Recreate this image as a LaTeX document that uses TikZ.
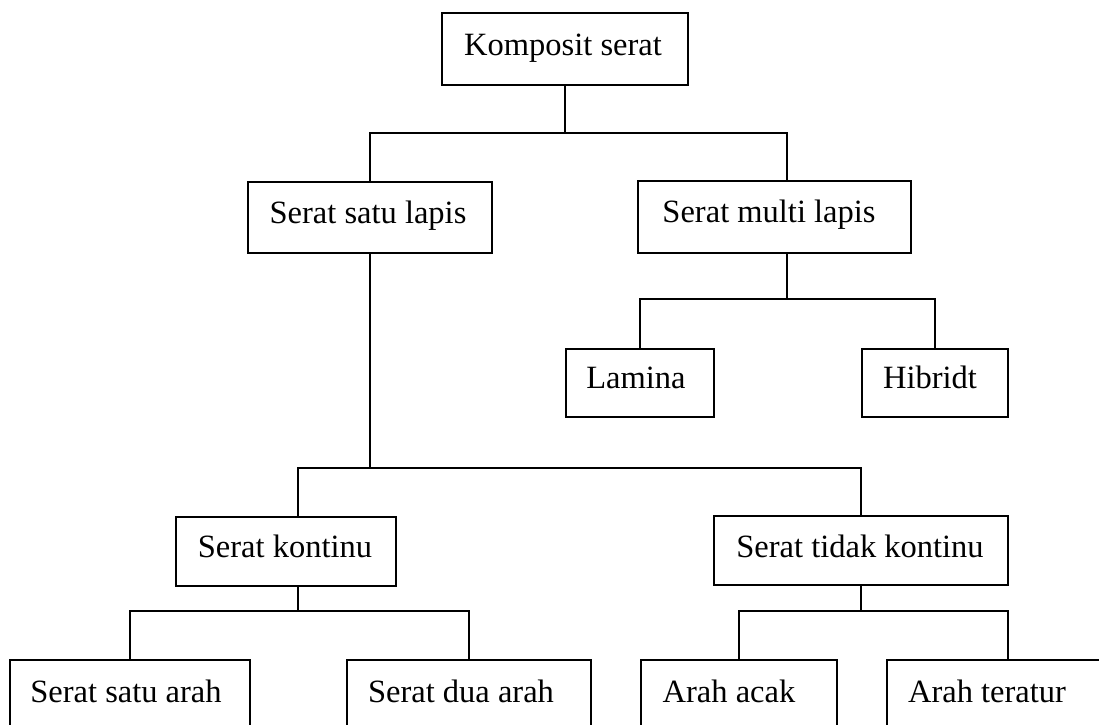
\documentclass[tikz,border=0pt]{standalone}
\usepackage{fontspec}
\setmainfont{Liberation Serif}
\begin{document}
\begin{tikzpicture}[x=1pt,y=-1pt,
  box/.style={draw=black, line width=2.1pt, rectangle, inner sep=0pt, fill=none},
  txt/.style={anchor=base, inner sep=0pt, font=\fontsize{32.5}{39}\selectfont},
  conn/.style={draw=black, line width=2.1pt}]
\useasboundingbox[fill=white] (0,0) rectangle (1099,724);
\clip (0,0) rectangle (1099,724);
% boxes
\node[box, minimum width=246pt, minimum height=72pt] (K)  at (565,49) {};
\node[box, minimum width=244pt, minimum height=71pt] (SL) at (370,217.5) {};
\node[box, minimum width=273pt, minimum height=72pt] (ML) at (774.5,217) {};
\node[box, minimum width=148pt, minimum height=68pt] (LA) at (640,383) {};
\node[box, minimum width=146pt, minimum height=68pt] (HI) at (935,383) {};
\node[box, minimum width=220pt, minimum height=69pt] (SK) at (286,551.5) {};
\node[box, minimum width=294pt, minimum height=69pt] (TK) at (861,550.5) {};
\node[box, minimum width=240pt, minimum height=100pt] (SA) at (130,710) {};
\node[box, minimum width=244pt, minimum height=100pt] (DA) at (469,710) {};
\node[box, minimum width=196pt, minimum height=100pt] (AA) at (739,710) {};
\node[box, minimum width=242pt, minimum height=100pt] (AT) at (1008,710) {};
% texts
\node[txt] (tK)  at (563,55)  {Komposit serat};
\node[txt] (tSL) at (368,223) {Serat satu lapis};
\node[txt] (tML) at (769,222) {Serat multi lapis};
\node[txt] (tLA) at (636,388) {Lamina};
\node[txt] (tHI) at (930,388) {Hibridt};
\node[txt] (tSK) at (285,557) {Serat kontinu};
\node[txt] (tTK) at (860,557) {Serat tidak kontinu};
\node[txt] (tSA) at (126,702) {Serat satu arah};
\node[txt] (tDA) at (461,702) {Serat dua arah};
\node[txt] (tAA) at (729,702) {Arah acak};
\node[txt] (tAT) at (987,702) {Arah teratur};
% junctions
\coordinate (j1) at (565,133);
\coordinate (mlin) at (787,181);
\coordinate (mlout) at (787,253);
\coordinate (j2) at (787,299);
\coordinate (j3) at (370,468);
\coordinate (skin) at (298,517);
\coordinate (skout) at (298,586);
\coordinate (j4) at (298,611);
\coordinate (j5) at (861,611);
% connectors
\draw[conn] (K.south) -- (j1);
\draw[conn] (SL.north) |- (j1);
\draw[conn] (mlin) |- (j1);
\draw[conn] (mlout) -- (j2);
\draw[conn] (LA.north) |- (j2);
\draw[conn] (HI.north) |- (j2);
\draw[conn] (SL.south) -- (j3);
\draw[conn] (skin) |- (j3);
\draw[conn] (TK.north) |- (j3);
\draw[conn] (skout) -- (j4);
\draw[conn] (SA.north) |- (j4);
\draw[conn] (DA.north) |- (j4);
\draw[conn] (TK.south) -- (j5);
\draw[conn] (AA.north) |- (j5);
\draw[conn] (AT.north) |- (j5);
\end{tikzpicture}
\end{document}
